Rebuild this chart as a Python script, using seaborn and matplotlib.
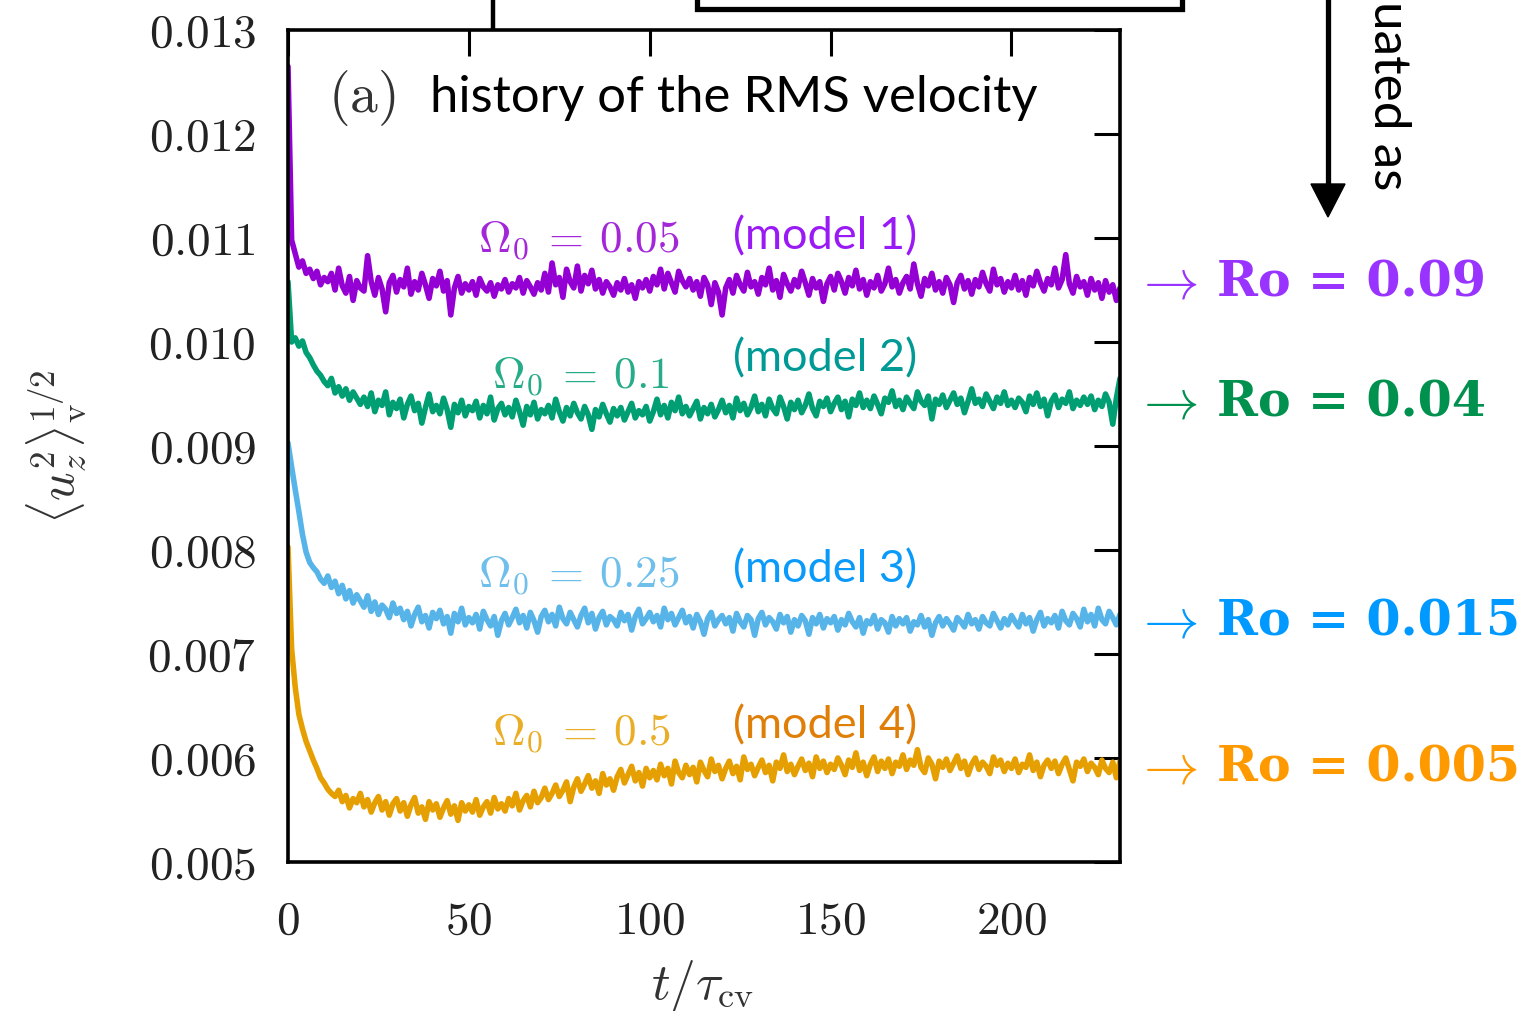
import numpy as np
import pandas as pd
import matplotlib
matplotlib.use("Agg")
import matplotlib.pyplot as plt
from matplotlib.lines import Line2D
from matplotlib.patches import Polygon
from matplotlib.ticker import FuncFormatter
import seaborn as sns

# ---------------------------------------------------------------------------
# RMS vertical velocity histories, sampled once per convective turnover time
# (t / tau_cv = 0, 1, ..., 230).  Values are given in units of 1e-5.
# ---------------------------------------------------------------------------
t_cv = np.arange(0, 231, 1.0)

model1 = [
    1265, 1098, 1085, 1072, 1078, 1066, 1070, 1061, 1068, 1055, 1062,
    1058, 1066, 1050, 1071, 1054, 1047, 1063, 1040, 1059, 1052,
    1049, 1083, 1058, 1045, 1062, 1051, 1029, 1057, 1064, 1048,
    1060, 1053, 1071, 1046, 1058, 1050, 1066, 1055, 1042, 1061,
    1054, 1068, 1049, 1059, 1026, 1052, 1063, 1047, 1056, 1050,
    1058, 1045, 1061, 1053, 1049, 1057, 1044, 1055, 1051, 1060,
    1048, 1056, 1052, 1062, 1047, 1059, 1053, 1046, 1057, 1050,
    1066, 1048, 1076, 1055, 1062, 1043, 1070, 1058, 1052, 1073,
    1049, 1064, 1056, 1069, 1051, 1060, 1047, 1058, 1053, 1045,
    1057, 1050, 1061, 1048, 1055, 1042, 1058, 1052, 1060, 1049,
    1063, 1055, 1070, 1051, 1066, 1057, 1048, 1068, 1059, 1053,
    1061, 1050, 1058, 1044, 1062, 1055, 1036, 1057, 1048, 1026,
    1052, 1060, 1047, 1064, 1055, 1049, 1067, 1053, 1058, 1046,
    1062, 1055, 1071, 1050, 1059, 1043, 1065, 1056, 1049, 1060,
    1053, 1068, 1057, 1045, 1061, 1052, 1058, 1039, 1056, 1063,
    1050, 1066, 1058, 1047, 1062, 1054, 1069, 1051, 1060, 1045,
    1058, 1052, 1064, 1049, 1056, 1071, 1053, 1060, 1047, 1057,
    1063, 1051, 1075, 1056, 1044, 1061, 1054, 1066, 1050, 1058,
    1047, 1062, 1055, 1038, 1057, 1064, 1051, 1059, 1046, 1060,
    1053, 1067, 1056, 1049, 1070, 1055, 1061, 1048, 1058, 1052,
    1064, 1050, 1059, 1045, 1062, 1054, 1068, 1057, 1049, 1061,
    1055, 1071, 1052, 1060, 1084, 1056, 1047, 1063, 1053, 1058,
    1045, 1061, 1050, 1057, 1042, 1059, 1048, 1055, 1040, 1052,
]

model2 = [
    1058, 1000, 1004, 996, 1001, 990, 985, 978, 972, 968, 962,
    958, 965, 951, 957, 948, 955, 944, 952, 946, 940,
    947, 938, 951, 933, 944, 939, 952, 930, 942, 936,
    945, 927, 940, 948, 934, 941, 922, 937, 950, 933,
    939, 931, 946, 935, 918, 940, 932, 944, 929, 938,
    934, 943, 927, 939, 931, 947, 925, 936, 941, 930,
    937, 928, 944, 933, 920, 938, 930, 942, 926, 935,
    931, 939, 927, 945, 933, 924, 937, 929, 941, 932,
    926, 938, 930, 916, 935, 928, 940, 931, 923, 936,
    929, 937, 925, 933, 941, 927, 934, 930, 938, 924,
    933, 945, 930, 939, 927, 942, 934, 947, 931, 938,
    929, 936, 943, 926, 937, 931, 940, 928, 935, 944,
    932, 939, 927, 946, 934, 941, 930, 937, 948, 933,
    940, 929, 945, 936, 931, 947, 938, 926, 942, 935,
    944, 932, 939, 950, 936, 929, 943, 938, 946, 933,
    941, 947, 935, 943, 928, 945, 939, 951, 937, 944,
    936, 948, 940, 931, 946, 942, 953, 938, 944, 935,
    947, 941, 936, 952, 943, 939, 948, 926, 945, 940,
    949, 937, 944, 951, 940, 946, 932, 943, 955, 941,
    945, 938, 950, 943, 936, 947, 941, 952, 939, 944,
    937, 946, 942, 933, 948, 940, 951, 938, 945, 929,
    943, 949, 937, 945, 941, 952, 936, 944, 939, 947,
    940, 948, 935, 944, 938, 950, 942, 921, 946, 965,
]

model3 = [
    903, 880, 858, 837, 815, 798, 788, 783, 779, 772, 768,
    775, 764, 770, 758, 766, 753, 761, 749, 757, 751,
    745, 756, 741, 750, 738, 747, 743, 735, 749, 739,
    744, 733, 741, 727, 738, 745, 731, 737, 725, 740,
    734, 742, 729, 736, 720, 739, 731, 744, 728, 735,
    730, 738, 724, 741, 733, 727, 736, 718, 732, 739,
    728, 735, 743, 730, 737, 725, 740, 732, 721, 736,
    742, 731, 738, 727, 745, 734, 729, 740, 733, 726,
    737, 744, 730, 739, 724, 735, 741, 728, 736, 733,
    727, 740, 732, 738, 723, 736, 743, 729, 734, 740,
    731, 737, 726, 744, 733, 739, 728, 735, 742, 730,
    736, 725, 738, 731, 719, 734, 740, 727, 733, 737,
    729, 735, 722, 739, 731, 726, 737, 733, 718, 734,
    740, 728, 735, 731, 724, 738, 730, 736, 721, 733,
    727, 737, 732, 719, 735, 729, 738, 725, 734, 730,
    736, 723, 733, 728, 739, 731, 726, 735, 720, 732,
    729, 737, 724, 733, 730, 721, 736, 727, 734, 729,
    735, 722, 731, 728, 737, 726, 733, 718, 730, 736,
    727, 734, 729, 723, 735, 731, 726, 738, 729, 733,
    724, 736, 730, 727, 739, 732, 725, 734, 728, 737,
    731, 726, 738, 729, 735, 722, 733, 740, 727, 734,
    730, 737, 725, 741, 732, 728, 739, 734, 726, 743,
    731, 738, 727, 744, 733, 729, 741, 735, 728, 738,
]

model4 = [
    803, 705, 668, 642, 628, 616, 607, 598, 590, 581, 576,
    570, 566, 563, 569, 558, 564, 552, 561, 557, 566,
    553, 560, 548, 557, 563, 550, 558, 545, 556, 561,
    549, 557, 544, 555, 562, 547, 553, 541, 558, 550,
    556, 543, 552, 559, 546, 554, 540, 557, 549, 555,
    548, 560, 545, 553, 558, 547, 562, 551, 556, 549,
    561, 554, 566, 550, 559, 564, 553, 568, 557, 562,
    571, 560, 566, 574, 563, 569, 577, 558, 572, 580,
    568, 575, 583, 571, 578, 566, 585, 574, 580, 569,
    582, 589, 576, 584, 592, 578, 586, 573, 590, 581,
    588, 579, 594, 583, 590, 575, 597, 586, 581, 593,
    584, 591, 577, 596, 588, 582, 599, 587, 593, 580,
    590, 597, 585, 592, 579, 601, 589, 594, 583, 591,
    598, 586, 593, 578, 596, 590, 603, 587, 594, 584,
    592, 599, 588, 595, 582, 601, 590, 597, 586, 594,
    589, 600, 593, 584, 598, 591, 605, 588, 596, 583,
    594, 601, 587, 597, 590, 599, 585, 596, 592, 603,
    589, 598, 593, 608, 591, 586, 600, 594, 580, 597,
    591, 599, 588, 595, 602, 590, 597, 584, 594, 600,
    589, 596, 592, 585, 601, 593, 598, 587, 595, 590,
    599, 586, 594, 591, 603, 588, 596, 582, 593, 598,
    590, 597, 585, 594, 600, 589, 578, 596, 592, 599,
    587, 595, 591, 584, 598, 590, 586, 596, 581, 597,
]

model_names = ["model 1", "model 2", "model 3", "model 4"]
omega_labels = ["0.05", "0.1", "0.25", "0.5"]
rossby_labels = ["0.09", "0.04", "0.015", "0.005"]

x_ticks = [0, 50, 100, 150, 200]
y_ticks = [0.005, 0.006, 0.007, 0.008, 0.009, 0.010, 0.011, 0.012, 0.013]

line_colors = ["#9400D3", "#009E73", "#56B4E9", "#E69F00"]
model_colors = ["#9A1AF5", "#009A96", "#0A9BFA", "#E07F08"]
rossby_colors = ["#9933FF", "#00914F", "#0099FF", "#FF9900"]

# ---------------------------------------------------------------------------
sns.set_style("white")
plt.rcParams["mathtext.fontset"] = "cm"
plt.rcParams["font.family"] = ["Lato", "DejaVu Sans"]

W, H = 1532, 1011
fig = plt.figure(figsize=(W / 100, H / 100), dpi=100)


def fx(px):
    return px / W


def fy(py):
    return 1 - py / H


ax = fig.add_axes([fx(288), fy(862), fx(1120) - fx(288), fy(30) - fy(862)])

series = [model1, model2, model3, model4]
df = pd.DataFrame({
    "t": np.tile(t_cv, len(series)),
    "u": np.concatenate([np.asarray(s, dtype=float) * 1e-5 for s in series]),
    "model": np.repeat(model_names, len(t_cv)),
})

sns.lineplot(data=df, x="t", y="u", hue="model", hue_order=model_names,
             palette=line_colors, linewidth=4.0, estimator=None, sort=False,
             legend=False, ax=ax)

ax.set_xlim(0, 230)
ax.set_ylim(0.005, 0.013)
ax.set_xticks(x_ticks)
ax.set_yticks(y_ticks)
ax.xaxis.set_major_formatter(FuncFormatter(lambda v, p: f"${v:.0f}$"))
ax.yaxis.set_major_formatter(FuncFormatter(lambda v, p: f"${v:.3f}$"))
ax.tick_params(direction="in", length=19, width=2.2, top=True, right=True,
               labelsize=34, color="black", labelcolor="#222222")
ax.tick_params(axis="y", pad=23)
ax.tick_params(axis="x", pad=27)
ax.set_xlabel("")
ax.set_ylabel("")
for sp in ax.spines.values():
    sp.set_linewidth(2.6)
    sp.set_color("black")

# axis titles
fig.text(fx(57), fy(447), r"$\langle u_z^2\rangle_{\rm v}^{1/2}$", rotation=90,
         ha="center", va="center", fontsize=36, color="#333333")
fig.text(fx(702), fy(986), r"$t/\tau_{\rm cv}$", ha="center", va="center",
         fontsize=37, color="#333333")

# panel heading
fig.text(fx(328), fy(112), r"$(\mathrm{a})$", ha="left", va="baseline",
         fontsize=40, color="#333333")
fig.text(fx(430), fy(112), "history of the RMS velocity", ha="left",
         va="baseline", fontsize=36.5, color="black")

# curve annotations
omega_pos = [(478, 252), (492, 388), (478, 587), (492, 745)]
model_pos = [(733, 249), (733, 371), (733, 582), (733, 738)]
for lab, (px, py), c in zip(omega_labels, omega_pos, line_colors):
    fig.text(fx(px), fy(py), rf"$\Omega_0\:=\:{lab}$", ha="left",
             va="baseline", fontsize=32.5, color=c, alpha=0.85)
for lab, (px, py), c in zip(model_names, model_pos, model_colors):
    fig.text(fx(px), fy(py), f"({lab})", ha="left", va="baseline",
             fontsize=32.5, color=c)

# Rossby numbers on the right
ro_y = [283, 403, 622, 768]
for lab, py, c in zip(rossby_labels, ro_y, rossby_colors):
    fig.text(fx(1134), fy(py), r"$\rightarrow$", ha="left", va="center",
             fontsize=40, color=c)
    fig.text(fx(1217), fy(py), f"Ro = {lab}", ha="left", va="center",
             fontsize=35.5, color=c, family="DejaVu Serif", weight="bold")

# connector graphics above the panel
fig.add_artist(Line2D([fx(493), fx(493)], [fy(-2), fy(30)], lw=3.2,
                      color="black", solid_capstyle="butt"))
fig.add_artist(Line2D([fx(697), fx(697), fx(1182), fx(1182)],
                      [fy(-2), fy(9), fy(9), fy(-2)], lw=3.8,
                      color="black", solid_joinstyle="miter"))
fig.add_artist(Line2D([fx(1328), fx(1328)], [fy(-2), fy(188)], lw=3.8,
                      color="black", solid_capstyle="butt"))
fig.add_artist(Polygon([[fx(1311), fy(184)], [fx(1345), fy(184)],
                        [fx(1328), fy(217)]], closed=True, color="black",
                       transform=fig.transFigure))
fig.text(fx(1388), fy(190), "uated as", rotation=-90, ha="center",
         va="bottom", fontsize=37, color="black")

fig.savefig("out.png", dpi=100)
